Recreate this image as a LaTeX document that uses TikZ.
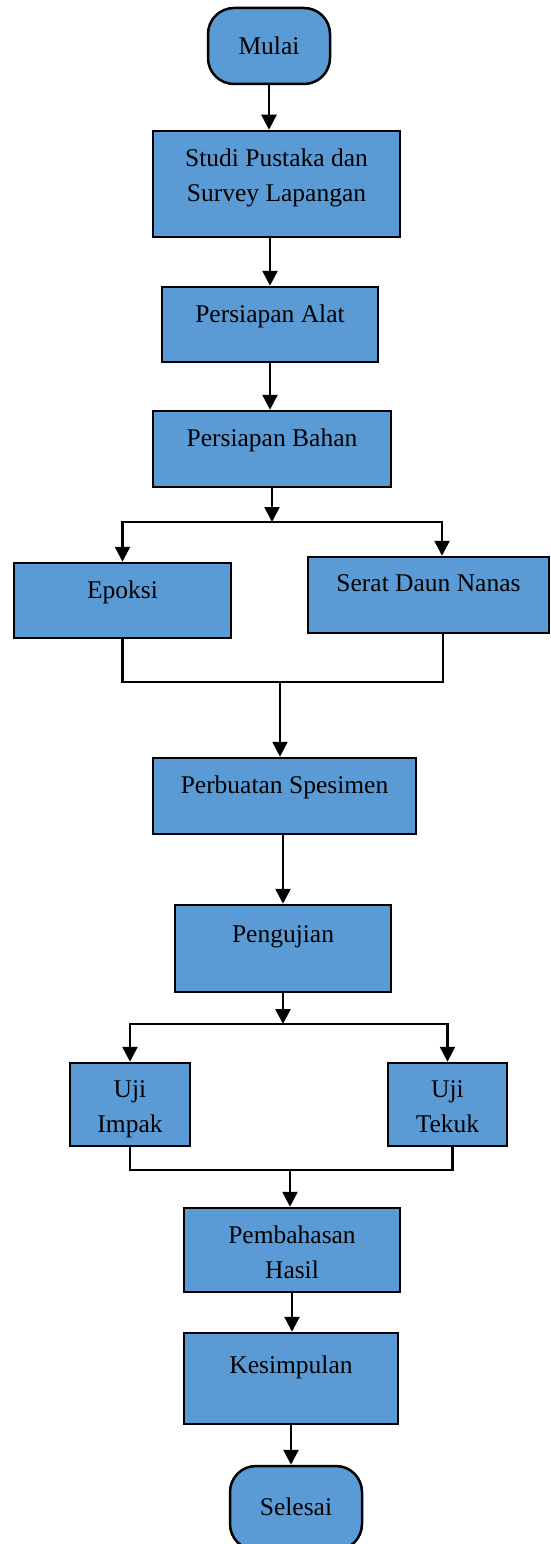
\documentclass[tikz,border=0pt]{standalone}
\usepackage{fontspec}
\setmainfont{Liberation Serif}
\usetikzlibrary{arrows.meta}
\definecolor{boxblue}{HTML}{5B9BD5}
\newcommand{\fsz}{\fontsize{25.5}{35}\selectfont}
\begin{document}
\begin{tikzpicture}[
    x=1pt, y=-1pt,
    box/.style={draw, line width=2.5pt, fill=boxblue, inner sep=0pt},
    term/.style={box, rounded corners=26pt, font=\fsz},
    lbl/.style={anchor=north, yshift=-19pt, align=center, inner sep=0pt, font=\fsz},
    arr/.style={-{Triangle[width=15pt,length=15pt]}, line width=2.5pt},
    link/.style={line width=2.5pt}
]
    \useasboundingbox (0,0) rectangle (551,1544);

    % Boxes (coordinates in pixels of the reference)
    \node[term, minimum width=122pt, minimum height=76pt] (mulai) at (269,46) {Mulai};
    \node[box, minimum width=247pt, minimum height=106pt,
          label={[lbl]north:{Studi Pustaka dan\\Survey Lapangan}}] (studi) at (276.5,184) {};
    \node[box, minimum width=216pt, minimum height=75pt,
          label={[lbl]north:Persiapan  Alat}] (alat) at (270,324.5) {};
    \node[box, minimum width=238pt, minimum height=76pt,
          label={[lbl]north:Persiapan  Bahan}] (bahan) at (272,449) {};
    \node[box, minimum width=217pt, minimum height=75pt,
          label={[lbl]north:Epoksi}] (epoksi) at (122.5,600.5) {};
    \node[box, minimum width=241pt, minimum height=76pt,
          label={[lbl]north:Serat Daun Nanas}] (serat) at (428.5,595) {};
    \node[box, minimum width=263pt, minimum height=76pt,
          label={[lbl]north:Perbuatan Spesimen}] (perb) at (284.5,796) {};
    \node[box, minimum width=216pt, minimum height=87pt,
          label={[lbl, yshift=-3pt]north:Pengujian}] (peng) at (283,948.5) {};
    \node[box, minimum width=120pt, minimum height=83pt,
          label={[lbl]north:{Uji\\Impak}}] (impak) at (130,1104.5) {};
    \node[box, minimum width=119pt, minimum height=83pt,
          label={[lbl]north:{Uji\\Tekuk}}] (tekuk) at (447.5,1104.5) {};
    \node[box, minimum width=216pt, minimum height=84pt,
          label={[lbl]north:{Pembahasan\\Hasil}}] (pemb) at (292,1250) {};
    \node[box, minimum width=214pt, minimum height=91pt,
          label={[lbl, yshift=-5pt]north:Kesimpulan}] (kes) at (291,1378.5) {};
    \node[term, minimum width=132pt, minimum height=84pt] (selesai) at (296,1508) {\raisebox{3pt}{Selesai}};

    % Junctions
    \coordinate (split1) at (272,522);
    \coordinate (merge1) at (280,682);
    \coordinate (split2) at (283,1024);
    \coordinate (merge2) at (290,1170);

    % Connectors
    \draw[arr] (mulai.south) -- (mulai.south |- studi.north);
    \draw[arr] (alat.north |- studi.south) -- (alat.north);
    \draw[arr] (alat.south) -- (alat.south |- bahan.north);
    \draw[arr] (bahan.south) -- (split1);
    \draw[arr] (split1) -| (epoksi.north);
    \draw[arr] (split1) -| ([xshift=13.5pt]serat.north);
    \draw[link] (epoksi.south) |- (merge1) -| ([xshift=14.5pt]serat.south);
    \draw[arr] (merge1) -- (merge1 |- perb.north);
    \draw[arr] (peng.north |- perb.south) -- (peng.north);
    \draw[arr] (peng.south) -- (split2);
    \draw[arr] (split2) -| (impak.north);
    \draw[arr] (split2) -| (tekuk.north);
    \draw[link] (impak.south) |- (merge2) -| ([xshift=5pt]tekuk.south);
    \draw[arr] (merge2) -- (merge2 |- pemb.north);
    \draw[arr] (pemb.south) -- (pemb.south |- kes.north);
    \draw[arr] (kes.south) -- (kes.south |- selesai.north);
\end{tikzpicture}
\end{document}
